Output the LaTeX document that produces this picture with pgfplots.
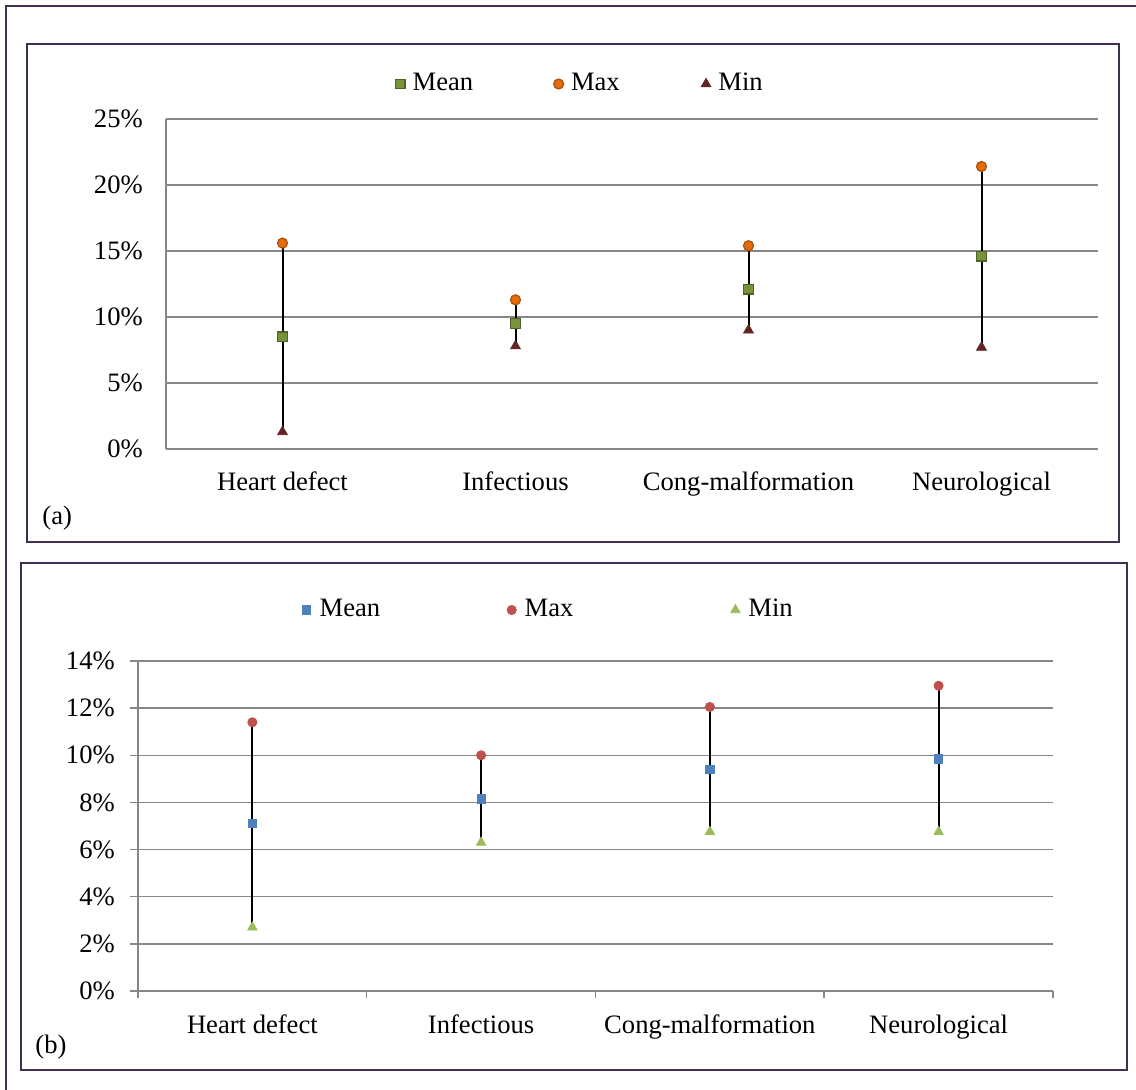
\documentclass[border=0pt]{standalone}
\usepackage{fontspec}
\setmainfont{Liberation Serif}
\usepackage{pgfplots}
\usepackage{pgfplotstable}
\pgfplotsset{compat=1.18}
\definecolor{framec}{RGB}{64,49,82}
\definecolor{gridc}{RGB}{134,134,134}
\definecolor{meanA}{RGB}{119,147,60}
\definecolor{meanAd}{RGB}{79,98,40}
\definecolor{maxA}{RGB}{228,108,10}
\definecolor{maxAd}{RGB}{170,80,10}
\definecolor{minA}{RGB}{99,37,35}
\definecolor{meanB}{RGB}{79,129,189}
\definecolor{maxB}{RGB}{192,80,77}
\definecolor{minB}{RGB}{155,187,89}

\pgfplotstableread{
x mean max min
1 8.5 15.6 1.3
2 9.5 11.3 7.8
3 12.1 15.4 9.0
4 14.6 21.4 7.7
}\dataA

\pgfplotstableread{
x mean max min
1 7.1 11.4 2.7
2 8.15 10.0 6.3
3 9.4 12.05 6.75
4 9.85 12.95 6.75
}\dataB

\pgfplotsset{
  common/.style={
    scale only axis,
    xmin=0.5, xmax=4.5,
    axis lines*=left,
    axis line style={gridc, line width=0.75pt},
    ymajorgrids,
    grid style={gridc, line width=0.75pt},
    xtick={1,2,3,4},
    xticklabels={Heart defect, Infectious, Cong-malformation, Neurological},
    legend columns=3,
    legend style={draw=none, fill=none, anchor=west, font=\fontsize{13.3}{16}\selectfont},
    tick label style={font=\fontsize{13.3}{16}\selectfont},
    clip=false,
  },
  ebar/.style={draw=none, mark=none, forget plot,
    error bars/.cd, y dir=minus, y explicit,
    error bar style={draw=black, line width=1pt}, error mark=none},
}

\begin{document}
\fontsize{13.3}{16}\selectfont
\begin{tikzpicture}
\useasboundingbox (0pt,0pt) rectangle (568pt,-545pt);
% outer frame (cut at right and bottom)
\draw[framec, line width=1.2pt] (3pt,-545pt) -- (3pt,-3pt) -- (568pt,-3pt);
% panel frames
\draw[framec, line width=1pt] (13.5pt,-22pt) rectangle (559.5pt,-271pt);
\draw[framec, line width=1pt] (10.5pt,-281.5pt) rectangle (563.5pt,-535pt);
\node[anchor=west, inner sep=0pt] at (21pt,-259pt) {(a)};
\node[anchor=west, inner sep=0pt] at (17.5pt,-523.5pt) {(b)};

% ---------------- panel (a)
\begin{axis}[common,
  at={(83pt,-224.5pt)}, anchor=south west,
  width=466pt, height=165pt,
  ymin=0, ymax=25,
  ytick={0,5,10,15,20,25},
  yticklabels={0\%,5\%,10\%,15\%,20\%,25\%},
  tick style={draw=none},
  yticklabel style={xshift=-7pt},
  xticklabel style={yshift=-7pt},
  legend image code/.code={\draw[#1] plot coordinates {(0pt,0pt)}; \path (4pt,0pt);},
  legend style={at={(0.2393,1)}, yshift=17.5pt},
]
\addplot[ebar] table[x=x, y=max, y error expr=\thisrow{max}-\thisrow{min}] {\dataA};
\addplot[only marks, mark=square*, mark size=2.4pt, mark options={fill=meanA, draw=meanAd, line width=0.6pt}] table[x=x, y=mean] {\dataA};
\addplot[only marks, mark=*, mark size=2.5pt, mark options={fill=maxA, draw=maxAd, line width=0.6pt}] table[x=x, y=max] {\dataA};
\addplot[only marks, mark=triangle*, mark size=2.9pt, mark options={fill=minA, draw=minA, line width=0.3pt}] table[x=x, y=min] {\dataA};
\legend{\makebox[68.5pt][l]{Mean}, \makebox[63pt][l]{Max}, Min}
\end{axis}

% ---------------- panel (b)
\begin{axis}[common,
  at={(69pt,-495.5pt)}, anchor=south west,
  width=457.5pt, height=165pt,
  ymin=0, ymax=14,
  ytick={0,2,4,6,8,10,12,14},
  yticklabels={0\%,2\%,4\%,6\%,8\%,10\%,12\%,14\%},
  minor xtick={0.5,1.5,2.5,3.5,4.5},
  tick align=outside,
  major tick length=4pt,
  minor tick length=3.5pt,
  major x tick style={draw=none},
  minor x tick style={draw=gridc, line width=0.75pt},
  major y tick style={draw=gridc, line width=0.75pt},
  yticklabel style={xshift=-3pt},
  xticklabel style={yshift=-3.5pt},
  legend image code/.code={\draw[#1] plot coordinates {(0pt,0pt)}; \path (4.3pt,0pt);},
  legend style={at={(0.1727,1)}, yshift=25.5pt},
]
\addplot[ebar] table[x=x, y=max, y error expr=\thisrow{max}-\thisrow{min}] {\dataB};
\addplot[only marks, mark=square*, mark size=2.1pt, mark options={fill=meanB, draw=meanB}] table[x=x, y=mean] {\dataB};
\addplot[only marks, mark=*, mark size=2.3pt, mark options={fill=maxB, draw=maxB}] table[x=x, y=max] {\dataB};
\addplot[only marks, mark=triangle*, mark size=2.7pt, mark options={fill=minB, draw=minB}] table[x=x, y=min] {\dataB};
\legend{\makebox[91.75pt][l]{Mean}, \makebox[101pt][l]{Max}, Min}
\end{axis}
\end{tikzpicture}
\end{document}
